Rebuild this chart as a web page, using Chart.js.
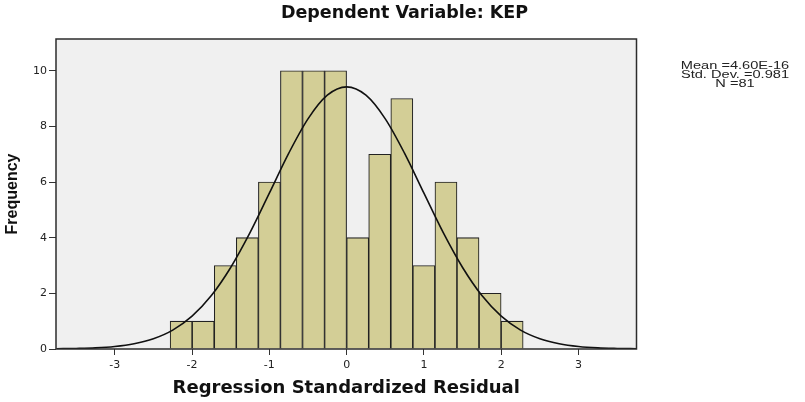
<!DOCTYPE html>
<html>
<head>
<meta charset="utf-8">
<title>Histogram - Regression Standardized Residual</title>
<script src="https://cdn.jsdelivr.net/npm/chart.js@4.4.1/dist/chart.umd.min.js"></script>
<style>
  html, body { margin: 0; padding: 0; background: #fff; }
  #wrap { width: 805px; height: 402px; }
</style>
</head>
<body>
<div id="wrap"><canvas id="histChart" width="805" height="402"></canvas></div>
<script>
// histogram bins (centres on the residual axis) and their counts
const binCenters = [-2.141, -1.856, -1.570, -1.285, -0.999, -0.714, -0.428, -0.143,
                    0.143, 0.428, 0.714, 0.999, 1.285, 1.570, 1.856, 2.141];
const frequencies = [1, 1, 3, 4, 6, 10, 10, 10, 4, 7, 9, 3, 6, 4, 2, 1];

// normal curve, heights
const curveX = [-3.75, -3.5, -3.25, -3, -2.75, -2.5, -2.25, -2, -1.75, -1.5, -1.25, -1, -0.75, -0.5, -0.25, 0,
                0.25, 0.5, 0.75, 1, 1.25, 1.5, 1.75, 2, 2.25, 2.5, 2.75, 3, 3.25, 3.5, 3.75];
const curveY = [0.01, 0.02, 0.04, 0.09, 0.19, 0.37, 0.68, 1.18, 1.92, 2.93, 4.18, 5.6, 7.03, 8.27, 9.12, 9.42,
                9.12, 8.27, 7.03, 5.6, 4.18, 2.93, 1.92, 1.18, 0.68, 0.37, 0.19, 0.09, 0.04, 0.02, 0.01];

const xTicks = [-3, -2, -1, 0, 1, 2, 3];
const yTicks = [0, 2, 4, 6, 8, 10];

const chartTitle = "Dependent Variable: KEP";
const statLines = ["Mean =4.60E-16", "Std. Dev. =0.981", "N =81"];

const tickFont = { family: "DejaVu Sans", size: 11 };

// grey plot background, dark frame, title over the whole page and the stats box
const frameBox = {
  id: "frameBox",
  beforeDraw(chart) {
    const { ctx, chartArea: a } = chart;
    ctx.save();
    ctx.fillStyle = "#f0f0f0";
    ctx.fillRect(a.left, a.top, a.right - a.left, a.bottom - a.top);
    ctx.restore();
  },
  afterDatasetsDraw(chart) {
    const { ctx, chartArea: a } = chart;
    ctx.save();
    ctx.strokeStyle = "#2c2c2c";
    ctx.lineWidth = 1.5;
    ctx.strokeRect(a.left, a.top, a.right - a.left, a.bottom - a.top);
    ctx.restore();
  },
  afterDraw(chart) {
    const ctx = chart.ctx;
    ctx.save();
    ctx.fillStyle = "#111";
    ctx.font = 'bold 17.5px "DejaVu Sans"';
    ctx.textAlign = "center";
    ctx.textBaseline = "alphabetic";
    ctx.fillText(chartTitle, chart.width / 2 + 2, 17.5);

    ctx.fillStyle = "#222";
    ctx.font = '10px "Liberation Sans"';
    ctx.scale(1.46, 1);
    statLines.forEach((line, i) => {
      ctx.fillText(line, 735 / 1.46, 69 + i * 9);
    });
    ctx.restore();
  }
};

const ctx = document.getElementById("histChart").getContext("2d");
new Chart(ctx, {
  type: "bar",
  data: {
    datasets: [
      {
        type: "line",
        data: curveX.map((x, i) => ({ x, y: curveY[i] })),
        borderColor: "#111",
        borderWidth: 1.6,
        pointRadius: 0,
        cubicInterpolationMode: "monotone",
        fill: false,
        order: 0
      },
      {
        type: "bar",
        data: binCenters.map((x, i) => ({ x, y: frequencies[i] })),
        backgroundColor: "#d3ce96",
        borderColor: "#222",
        borderWidth: 1.1,
        barPercentage: 1,
        categoryPercentage: 1,
        order: 1
      }
    ]
  },
  options: {
    responsive: false,
    animation: false,
    devicePixelRatio: 1,
    layout: { padding: { top: 39, right: 168.5, bottom: 0, left: 0 } },
    plugins: {
      legend: { display: false },
      tooltip: { enabled: false },
      title: { display: false }
    },
    scales: {
      x: {
        type: "linear",
        min: -3.76,
        max: 3.75,
        offset: false,
        afterBuildTicks: (s) => { s.ticks = xTicks.map((v) => ({ value: v })); },
        afterFit: (s) => { s.height = 53; },
        grid: { offset: false, drawOnChartArea: false, drawTicks: true, tickLength: 6, tickColor: "#333" },
        border: { display: false },
        ticks: { color: "#222", font: tickFont, padding: 4, maxRotation: 0 },
        title: {
          display: true,
          text: "Regression Standardized Residual",
          color: "#111",
          font: { family: "DejaVu Sans", size: 18, weight: "bold" },
          padding: { top: 0, bottom: 2.5 }
        }
      },
      y: {
        min: 0,
        max: 11.14,
        afterBuildTicks: (s) => { s.ticks = yTicks.map((v) => ({ value: v })); },
        afterFit: (s) => { s.width = 56; },
        grid: { drawOnChartArea: false, drawTicks: true, tickLength: 7, tickColor: "#333" },
        border: { display: false },
        ticks: { color: "#222", font: tickFont, padding: 2 },
        title: {
          display: true,
          text: "Frequency",
          color: "#111",
          font: { family: "Liberation Sans", size: 16, weight: "bold" },
          padding: { top: 3, bottom: 0 }
        }
      }
    }
  },
  plugins: [frameBox]
});
</script>
</body>
</html>
